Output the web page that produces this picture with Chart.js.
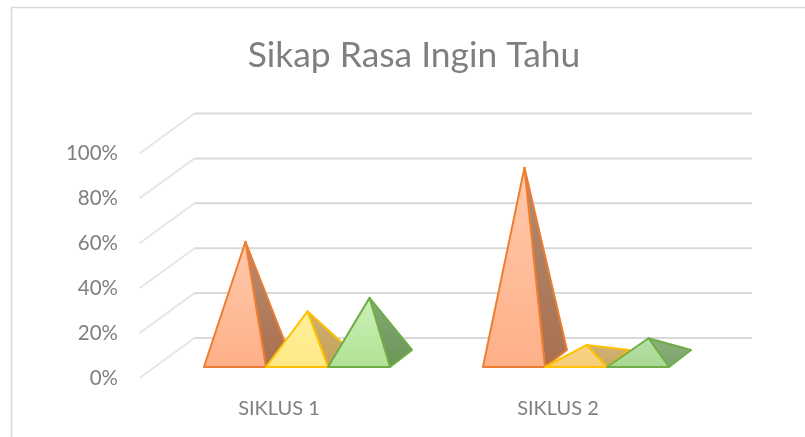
<!DOCTYPE html>
<html>
<head>
<meta charset="utf-8">
<script src="https://cdn.jsdelivr.net/npm/chart.js@4"></script>
<style>
    html, body { margin: 0; padding: 0; background: #fff; overflow: hidden; }
    #wrap { width: 805px; height: 437px; }
</style>
</head>
<body>
<div id="wrap"><canvas id="chart" width="805" height="437"></canvas></div>
<script>
    const categories = ["SIKLUS 1", "SIKLUS 2"];
    const seriesA = [52, 85];
    const seriesB = [21, 6];
    const seriesC = [27, 9];
    const tickLabels = ["0%", "20%", "40%", "60%", "80%", "100%"];

    const strokes = ["#ED7D31", "#FFC000", "#70AD47"];
    // front face top/bottom and side face colours, one per category
    const frontTop = [["#FFC9AC", "#FFC9AC"], ["#FFF09C", "#F8D488"], ["#CBF0B8", "#B8E0A6"]];
    const frontBottom = [["#FFB088", "#FFB088"], ["#FFE985", "#F6CC78"], ["#B2E295", "#A8D792"]];
    const sideTop = [["#B98A70", "#B08A72"], ["#CDB070", "#CFB274"], ["#86A878", "#8AAE7C"]];
    const sideBottom = [["#A9714F", "#A9714F"], ["#C4A25A", "#C9A862"], ["#6B9557", "#7CA56C"]];

    // the floor and walls are drawn in a fake 3D, these are the offsets from the front plane
    const wallX = 55;
    const wallY = -40;
    const gridEnd = 752;

    const wallsPlugin = {
        id: "walls",
        // title block follows the whole frame, not the plot area
        afterLayout(chart) {
            chart.titleBlock.left = 23;
            chart.titleBlock.right = 805;
        },
        beforeDraw(chart) {
            const ctx = chart.ctx;
            ctx.save();
            ctx.strokeStyle = "#D9D9D9";
            ctx.lineWidth = 1.5;
            ctx.beginPath();
            ctx.moveTo(11.5, 438);
            ctx.lineTo(11.5, 7.5);
            ctx.lineTo(806, 7.5);
            ctx.stroke();
            ctx.restore();
        },
        beforeDatasetsDraw(chart) {
            const ctx = chart.ctx;
            const y = chart.scales.y;
            const left = chart.chartArea.left;
            ctx.save();
            y.ticks.forEach(t => {
                const py = y.getPixelForValue(t.value);
                ctx.strokeStyle = "#E6E6E6";
                ctx.lineWidth = 2;
                ctx.beginPath();
                ctx.moveTo(left, py);
                ctx.lineTo(left + wallX, py + wallY);
                ctx.stroke();
                ctx.strokeStyle = "#D9D9D9";
                ctx.beginPath();
                ctx.moveTo(left + wallX, py + wallY);
                ctx.lineTo(gridEnd, py + wallY);
                ctx.stroke();
            });
            ctx.restore();
        }
    };

    // pyramids are placed from the bar elements, which stay invisible
    const pyramidPlugin = {
        id: "pyramids",
        afterDatasetsDraw(chart) {
            const ctx = chart.ctx;
            const y = chart.scales.y;
            const zero = y.getPixelForValue(0);
            chart.data.datasets.forEach((ds, d) => {
                const meta = chart.getDatasetMeta(d);
                meta.data.forEach((bar, i) => {
                    const half = bar.width / 2;
                    const cx = bar.x + 18;
                    const floorY = zero - 11;
                    const backX = cx + half + 22;
                    const backY = zero - 28;
                    const apexX = cx + 10.5;
                    const apexY = y.getPixelForValue(ds.data[i]) - 19.5;

                    let side = ctx.createLinearGradient(0, apexY, 0, floorY);
                    side.addColorStop(0, sideTop[d][i]);
                    side.addColorStop(1, sideBottom[d][i]);
                    ctx.beginPath();
                    ctx.moveTo(cx + half, floorY);
                    ctx.lineTo(backX, backY);
                    ctx.lineTo(apexX, apexY);
                    ctx.closePath();
                    ctx.fillStyle = side;
                    ctx.fill();

                    ctx.strokeStyle = strokes[d];
                    ctx.lineWidth = 2;
                    ctx.lineJoin = "round";
                    ctx.stroke();

                    let front = ctx.createLinearGradient(0, apexY, 0, floorY);
                    front.addColorStop(0, frontTop[d][i]);
                    front.addColorStop(1, frontBottom[d][i]);
                    ctx.beginPath();
                    ctx.moveTo(cx - half, floorY);
                    ctx.lineTo(cx + half, floorY);
                    ctx.lineTo(apexX, apexY);
                    ctx.closePath();
                    ctx.fillStyle = front;
                    ctx.fill();
                    ctx.stroke();
                });
            });
        }
    };

    const makeDataset = (label, data) => ({
        label: label,
        data: data,
        backgroundColor: "transparent",
        borderWidth: 0,
        categoryPercentage: 0.667,
        barPercentage: 1
    });

    new Chart(document.getElementById("chart"), {
        type: "bar",
        data: {
            labels: categories,
            datasets: [
                makeDataset("A", seriesA),
                makeDataset("B", seriesB),
                makeDataset("C", seriesC)
            ]
        },
        options: {
            responsive: false,
            animation: false,
            layout: { padding: { left: 0, right: 107.5, top: 20, bottom: 0 } },
            plugins: {
                legend: { display: false },
                tooltip: { enabled: false },
                title: {
                    display: true,
                    text: "Sikap Rasa Ingin Tahu",
                    color: "#7F7F7F",
                    font: { family: "Lato", size: 35.4, weight: "normal" },
                    padding: { top: 14, bottom: 77 }
                }
            },
            scales: {
                x: {
                    afterFit(scale) { scale.height = 59; },
                    grid: { display: false },
                    border: { display: false },
                    ticks: { color: "#7F7F7F", font: { family: "Lato", size: 20 }, padding: 11, maxRotation: 0 }
                },
                y: {
                    min: 0,
                    max: 100,
                    afterFit(scale) { scale.width = 139.5; },
                    grid: { display: false },
                    border: { display: false },
                    ticks: {
                        stepSize: 20,
                        color: "#7F7F7F",
                        font: { family: "Lato", size: 20.5 },
                        padding: 13.5,
                        callback: (v, i) => tickLabels[i]
                    }
                }
            }
        },
        plugins: [wallsPlugin, pyramidPlugin]
    });
</script>
</body>
</html>
